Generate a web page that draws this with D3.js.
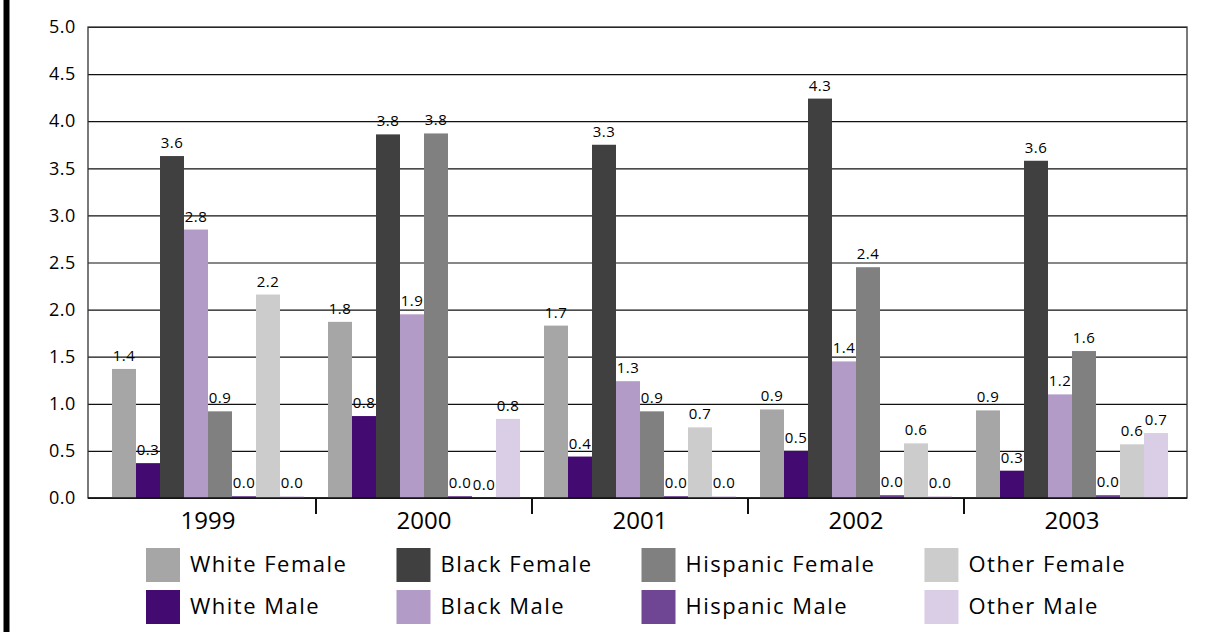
<!DOCTYPE html>
<html>
<head>
<meta charset="utf-8">
<script src="https://cdn.jsdelivr.net/npm/d3@7"></script>
<style>
  body { margin: 0; background: #fff; }
  svg { display: block; font-family: "Open Sans", sans-serif; }
</style>
</head>
<body>
<div class="chart-page"></div>
<script>
// data
let years = ["1999", "2000", "2001", "2002", "2003"];
let seriesNames = ["White Female", "White Male", "Black Female", "Black Male",
                   "Hispanic Female", "Hispanic Male", "Other Female", "Other Male"];
let seriesColors = ["#a6a6a6", "#430b72", "#404040", "#b39bc8",
                    "#808080", "#6e4693", "#cccccc", "#dacde6"];

let whiteFemale    = [1.37, 1.87, 1.83, 0.94, 0.93];
let whiteMale      = [0.37, 0.87, 0.44, 0.50, 0.29];
let blackFemale    = [3.63, 3.86, 3.75, 4.24, 3.58];
let blackMale      = [2.85, 1.95, 1.24, 1.45, 1.10];
let hispanicFemale = [0.92, 3.87, 0.92, 2.45, 1.56];
let hispanicMale   = [0.02, 0.02, 0.02, 0.03, 0.03];
let otherFemale    = [2.16, 0.00, 0.75, 0.58, 0.57];
let otherMale      = [0.02, 0.84, 0.02, 0.02, 0.69];

// printed labels (they are not always the rounded bar height)
let whiteFemaleLabels    = ["1.4", "1.8", "1.7", "0.9", "0.9"];
let whiteMaleLabels      = ["0.3", "0.8", "0.4", "0.5", "0.3"];
let blackFemaleLabels    = ["3.6", "3.8", "3.3", "4.3", "3.6"];
let blackMaleLabels      = ["2.8", "1.9", "1.3", "1.4", "1.2"];
let hispanicFemaleLabels = ["0.9", "3.8", "0.9", "2.4", "1.6"];
let hispanicMaleLabels   = ["0.0", "0.0", "0.0", "0.0", "0.0"];
let otherFemaleLabels    = ["2.2", "0.0", "0.7", "0.6", "0.6"];
let otherMaleLabels      = ["0.0", "0.8", "0.0", "0.0", "0.7"];

let yTicks = [0, 0.5, 1, 1.5, 2, 2.5, 3, 3.5, 4, 4.5, 5];

let seriesValues = [whiteFemale, whiteMale, blackFemale, blackMale,
                    hispanicFemale, hispanicMale, otherFemale, otherMale];
let seriesLabels = [whiteFemaleLabels, whiteMaleLabels, blackFemaleLabels, blackMaleLabels,
                    hispanicFemaleLabels, hispanicMaleLabels, otherFemaleLabels, otherMaleLabels];

let width = 1209, height = 632;
let plot = { left: 88, top: 27, right: 1187, bottom: 498 };

let svg = d3.select(".chart-page")
  .append("svg")
  .attr("width", width)
  .attr("height", height);

// black rule on the left edge
svg.append("rect")
  .attr("x", 3.5).attr("y", 0)
  .attr("width", 6).attr("height", height)
  .attr("fill", "#000");

let x0 = d3.scaleBand()
  .domain(years)
  .range([plot.left + 12, plot.right - 7])
  .paddingInner(24 / 216)
  .paddingOuter(12 / 216);

let x1 = d3.scaleBand()
  .domain(seriesNames)
  .range([0, x0.bandwidth()]);

let y = d3.scaleLinear()
  .domain([0, 5])
  .range([plot.bottom, plot.top]);

let color = d3.scaleOrdinal()
  .domain(seriesNames)
  .range(seriesColors);

// gridlines
svg.append("g")
  .attr("class", "grid")
  .attr("transform", "translate(" + plot.left + ",0)")
  .call(d3.axisLeft(y).tickValues(yTicks).tickSize(-(plot.right - plot.left)).tickFormat(""))
  .call(function(g) { g.select(".domain").remove(); })
  .selectAll("line")
  .attr("stroke", "#111")
  .attr("stroke-width", 1.2);

// plot frame
svg.append("rect")
  .attr("x", plot.left).attr("y", plot.top)
  .attr("width", plot.right - plot.left)
  .attr("height", plot.bottom - plot.top)
  .attr("fill", "none")
  .attr("stroke", "#333")
  .attr("stroke-width", 1.3);

let rows = years.map(function(yr, i) {
  return {
    year: yr,
    bars: seriesNames.map(function(name, s) {
      return { name: name, value: seriesValues[s][i], label: seriesLabels[s][i] };
    })
  };
});

let groups = svg.append("g")
  .selectAll("g")
  .data(rows)
  .enter()
  .append("g")
  .attr("transform", function(d) { return "translate(" + x0(d.year) + ",0)"; });

groups.selectAll("rect")
  .data(function(d) { return d.bars; })
  .enter()
  .append("rect")
  .attr("x", function(d) { return x1(d.name); })
  .attr("y", function(d) { return y(d.value); })
  .attr("width", x1.bandwidth())
  .attr("height", function(d) { return y(0) - y(d.value); })
  .attr("fill", function(d) { return color(d.name); });

groups.selectAll("text")
  .data(function(d) { return d.bars; })
  .enter()
  .append("text")
  .attr("x", function(d) { return x1(d.name) + x1.bandwidth() / 2; })
  .attr("y", function(d) { return y(d.value) - 8; })
  .attr("text-anchor", "middle")
  .attr("font-size", "15px")
  .attr("letter-spacing", "0.4px")
  .attr("fill", "#000")
  .text(function(d) { return d.label; });

// baseline redrawn over bars
svg.append("line")
  .attr("x1", plot.left).attr("x2", plot.right)
  .attr("y1", plot.bottom).attr("y2", plot.bottom)
  .attr("stroke", "#111")
  .attr("stroke-width", 1.5);

// y axis labels
svg.append("g")
  .attr("transform", "translate(" + plot.left + ",0)")
  .call(d3.axisLeft(y).tickValues(yTicks).tickSize(0).tickPadding(12).tickFormat(d3.format(".1f")))
  .call(function(g) { g.select(".domain").remove(); })
  .selectAll("text")
  .attr("font-family", "Open Sans")
  .attr("font-size", "18px")
  .attr("letter-spacing", "0.6px")
  .attr("fill", "#000");

// category separators under the axis
svg.append("g")
  .selectAll("line")
  .data(years.slice(1))
  .enter()
  .append("line")
  .attr("x1", function(d) { return x0(d) - x0.step() * x0.paddingInner() / 2; })
  .attr("x2", function(d) { return x0(d) - x0.step() * x0.paddingInner() / 2; })
  .attr("y1", plot.bottom)
  .attr("y2", plot.bottom + 16)
  .attr("stroke", "#111")
  .attr("stroke-width", 2);

// year labels
svg.append("g")
  .selectAll("text")
  .data(years)
  .enter()
  .append("text")
  .attr("x", function(d) { return x0(d) + x0.bandwidth() / 2; })
  .attr("y", 529)
  .attr("text-anchor", "middle")
  .attr("font-size", "24px")
  .attr("fill", "#000")
  .text(function(d) { return d; });

// legend: two rows, columns sized by their longest label
let legend = svg.append("g").attr("class", "legend");
let items = legend.selectAll("g")
  .data(seriesNames)
  .enter()
  .append("g");

items.append("rect")
  .attr("width", 34)
  .attr("height", 34)
  .attr("fill", function(d) { return color(d); });

items.append("text")
  .attr("x", 44)
  .attr("y", 24)
  .attr("font-size", "22px")
  .attr("letter-spacing", "1.5px")
  .attr("fill", "#000")
  .text(function(d) { return d; });

let colX = [], cx = 146;
for (let c = 0; c < 4; c++) {
  colX.push(cx);
  let w = 0;
  items.filter(function(d, i) { return Math.floor(i / 2) === c; })
    .select("text")
    .each(function() { w = Math.max(w, this.getComputedTextLength()); });
  cx += 44 + w + 49;
}

items.attr("transform", function(d, i) {
  return "translate(" + colX[Math.floor(i / 2)] + "," + (548 + (i % 2) * 42) + ")";
});
</script>
</body>
</html>
